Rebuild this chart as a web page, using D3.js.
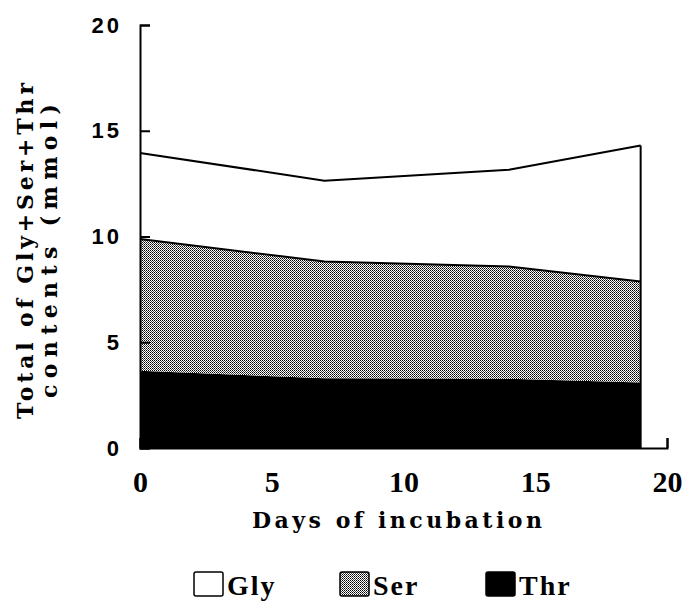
<!DOCTYPE html>
<html>
<head>
<meta charset="utf-8">
<script src="https://cdn.jsdelivr.net/npm/d3@7"></script>
<style>
  html, body { margin: 0; padding: 0; background: #fff; }
  svg { display: block; }
</style>
</head>
<body>
<div id="chart"></div>
<script>
// data
const days = [0, 7, 14, 19];
const thr = [3.65, 3.3, 3.28, 3.1];
const ser = [6.23, 5.52, 5.3, 4.77];
const gly = [4.07, 3.82, 4.58, 6.43];
const seriesNames = ['Gly', 'Ser', 'Thr'];
const xTicks = [0, 5, 10, 15, 20];
const yTicks = [0, 5, 10, 15, 20];

const width = 684, height = 606;
const serif = '"Liberation Serif", "Times New Roman", serif';
const wideSerif = '"DejaVu Serif", "Liberation Serif", serif';
const sans = '"Liberation Sans", Arial, sans-serif';

const svg = d3.select('#chart').append('svg')
  .attr('width', width)
  .attr('height', height);

// dotted fill for Ser
const defs = svg.append('defs');
const pat = defs.append('pattern')
  .attr('id', 'dots')
  .attr('width', 2).attr('height', 2)
  .attr('patternUnits', 'userSpaceOnUse');
pat.append('rect').attr('width', 2).attr('height', 2).attr('fill', '#fff');
pat.append('rect').attr('x', 0).attr('y', 0).attr('width', 1).attr('height', 1).attr('fill', '#000');
pat.append('rect').attr('x', 1).attr('y', 1).attr('width', 1).attr('height', 1).attr('fill', '#444');

const x = d3.scaleLinear().domain([0, 20]).range([140, 667]);
const y = d3.scaleLinear().domain([0, 20]).range([448, 25]);

const table = days.map((d, i) => ({ day: d, Thr: thr[i], Ser: ser[i], Gly: gly[i] }));
const stack = d3.stack().keys(['Thr', 'Ser', 'Gly']);
const layers = stack(table);

const fills = { Thr: '#000', Ser: 'url(#dots)', Gly: '#fff' };

const area = d3.area()
  .x(d => x(d.data.day))
  .y0(d => y(d[0]))
  .y1(d => y(d[1]));

svg.append('g').selectAll('path')
  .data(layers)
  .join('path')
  .attr('d', area)
  .attr('fill', d => fills[d.key]);

// boundary lines on top of Ser and Gly
const line = d3.line()
  .x(d => x(d.data.day))
  .y(d => y(d[1]));

svg.append('g').selectAll('path')
  .data(layers.filter(l => l.key !== 'Thr'))
  .join('path')
  .attr('d', line)
  .attr('fill', 'none')
  .attr('stroke', '#000')
  .attr('stroke-width', 2);

// right edge of stacked area
const last = layers[2][days.length - 1];
svg.append('path')
  .attr('d', d3.line()([[x(last.data.day), y(last[1])], [x(last.data.day), y(0)]]))
  .attr('stroke', '#000')
  .attr('stroke-width', 2);

// axes
const yAxis = svg.append('g')
  .attr('transform', `translate(${x(0)},0)`)
  .call(d3.axisLeft(y).tickValues(yTicks).tickSize(-10).tickPadding(18).tickFormat(d3.format('d')));
yAxis.selectAll('path, line').attr('stroke', '#000').attr('stroke-width', 2);
yAxis.selectAll('text')
  .attr('font-family', sans)
  .attr('font-weight', 'bold')
  .attr('font-size', 22)
  .attr('letter-spacing', 3)
  .attr('fill', '#000');

const xAxis = svg.append('g')
  .attr('transform', `translate(0,${y(0)})`)
  .call(d3.axisBottom(x).tickValues(xTicks).tickSize(-10).tickPadding(23).tickFormat(d3.format('d')));
xAxis.selectAll('path, line').attr('stroke', '#000').attr('stroke-width', 2);
xAxis.selectAll('text')
  .attr('font-family', serif)
  .attr('font-weight', 'bold')
  .attr('font-size', 30)
  .attr('fill', '#000');

// axis titles
svg.append('text')
  .attr('x', 397).attr('y', 528)
  .attr('text-anchor', 'middle')
  .attr('font-family', wideSerif).attr('font-weight', 'bold').attr('font-size', 22)
  .attr('textLength', 290).attr('lengthAdjust', 'spacing')
  .text('Days of incubation');

const yTitle = svg.append('g').attr('transform', 'translate(0,251) rotate(-90)');
yTitle.append('text')
  .attr('x', 0).attr('y', 33)
  .attr('text-anchor', 'middle')
  .attr('font-family', wideSerif).attr('font-weight', 'bold').attr('font-size', 22)
  .attr('textLength', 336).attr('lengthAdjust', 'spacing')
  .text('Total of Gly+Ser+Thr');
yTitle.append('text')
  .attr('x', 0).attr('y', 57)
  .attr('text-anchor', 'middle')
  .attr('font-family', wideSerif).attr('font-weight', 'bold').attr('font-size', 22)
  .attr('textLength', 294).attr('lengthAdjust', 'spacing')
  .text('contents (mmol)');

// legend
const legend = svg.append('g').attr('transform', 'translate(194,572)');
const items = legend.selectAll('g')
  .data(seriesNames)
  .join('g')
  .attr('transform', (d, i) => `translate(${i * 146},0)`);
items.append('rect')
  .attr('width', 29).attr('height', 24)
  .attr('rx', 2)
  .attr('fill', d => fills[d])
  .attr('stroke', '#000').attr('stroke-width', 1.5);
items.append('text')
  .attr('x', 33).attr('y', 23)
  .attr('font-family', serif).attr('font-weight', 'bold').attr('font-size', 28)
  .attr('letter-spacing', 2)
  .text(d => d);
</script>
</body>
</html>
